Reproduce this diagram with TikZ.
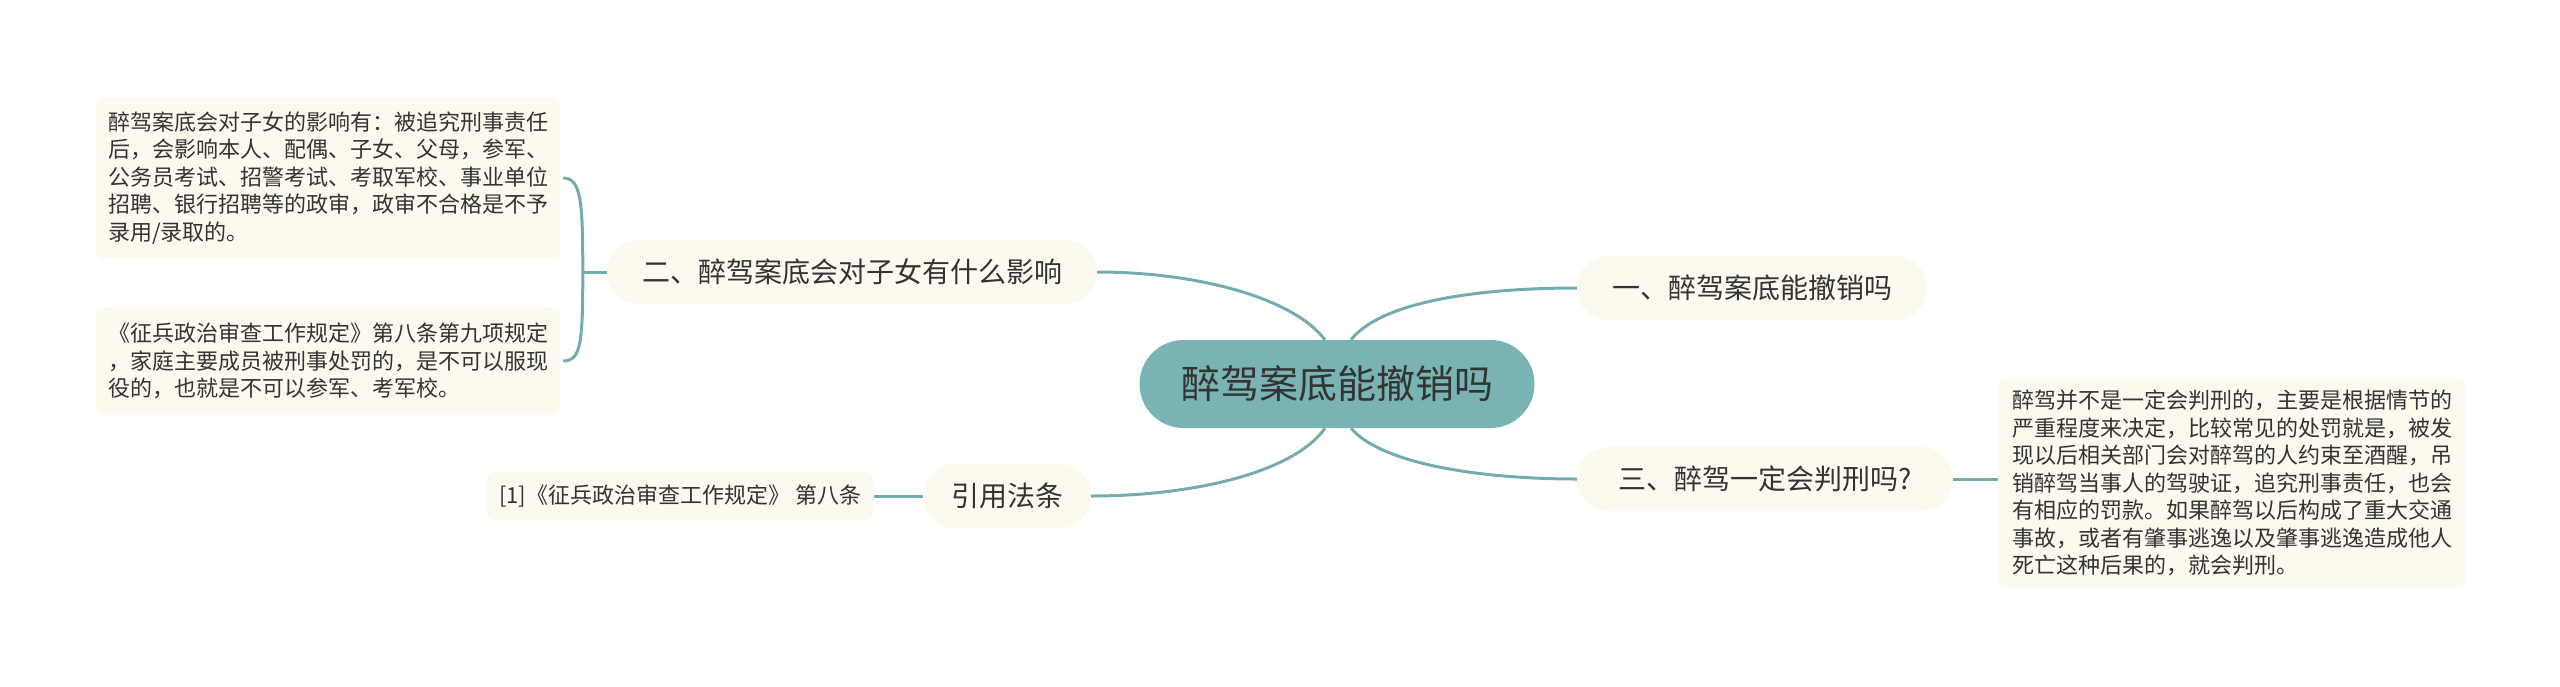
\documentclass[tikz,border=0pt]{standalone}
\usepackage{fontspec}
\setmainfont{Noto Sans CJK SC}
\definecolor{teal1}{RGB}{122,179,180}
\definecolor{linec}{RGB}{116,172,173}
\definecolor{cream}{RGB}{252,249,239}
\definecolor{txt}{RGB}{51,51,51}
\begin{document}
\begin{tikzpicture}[x=1pt,y=-1pt,
 conn/.style={draw=linec,line width=3pt},
 mainnode/.style={fill=teal1, rounded corners=44pt, minimum height=88pt, minimum width=395pt, text=txt, font=\fontsize{39}{46}\selectfont, inner sep=0pt},
 topic/.style={fill=cream, rounded corners=32pt, minimum height=64pt, text=txt, font=\fontsize{28}{34}\selectfont, inner sep=0pt},
 leaf/.style={fill=cream, rounded corners=8pt, text=txt, align=left, font=\fontsize{22}{27.5}\selectfont, inner sep=0pt}
]
\useasboundingbox (0,0) rectangle (2560,686);

\node[mainnode] (c) at (1337,384) {醉驾案底能撤销吗};

\node[topic, minimum width=350pt] (n1) at (1752,288) {一、醉驾案底能撤销吗};
\node[topic, minimum width=490pt] (n2) at (852,272) {二、醉驾案底会对子女有什么影响};
\node[topic, minimum width=376pt] (n3) at (1765,479) {三、醉驾一定会判刑吗?};
\node[topic, minimum width=168pt, minimum height=65pt] (n4) at (1007,496) {引用法条};

\node[leaf, minimum width=464pt, minimum height=160pt] (l1) at (328,178) {醉驾案底会对子女的影响有：被追究刑事责任\\后，会影响本人、配偶、子女、父母，参军、\\公务员考试、招警考试、考取军校、事业单位\\招聘、银行招聘等的政审，政审不合格是不予\\录用/录取的。};
\node[leaf, minimum width=464pt, minimum height=108pt] (l2) at (328,361) {《征兵政治审查工作规定》第八条第九项规定\\，家庭主要成员被刑事处罚的，是不可以服现\\役的，也就是不可以参军、考军校。};
\node[leaf, minimum width=467pt, minimum height=209pt] (l3) at (2232,483) {醉驾并不是一定会判刑的，主要是根据情节的\\严重程度来决定，比较常见的处罚就是，被发\\现以后相关部门会对醉驾的人约束至酒醒，吊\\销醉驾当事人的驾驶证，追究刑事责任，也会\\有相应的罚款。如果醉驾以后构成了重大交通\\事故，或者有肇事逃逸以及肇事逃逸造成他人\\死亡这种后果的，就会判刑。};
\node[leaf, minimum width=387pt, minimum height=48pt] (l4) at (680,496) {[1]《征兵政治审查工作规定》 第八条};

\draw[conn] ([xshift=-12pt]c.north) .. controls +(-32,-42) and +(100,0) .. (n2.east);
\draw[conn] ([xshift=14pt]c.north) .. controls +(30,-38) and +(-100,0) .. (n1.west);
\draw[conn] ([xshift=-12pt]c.south) .. controls +(-32,45) and +(100,0) .. (n4.east);
\draw[conn] ([xshift=14pt]c.south) .. controls +(30,35) and +(-100,0) .. (n3.west);

\coordinate (br) at ([xshift=-24pt]n2.west);
\draw[conn] (n2.west) -- (br);
\draw[conn] (br) .. controls +(0,-70) and +(18,0) .. ([xshift=3pt]l1.east);
\draw[conn] (br) .. controls +(0,70) and +(18,0) .. ([xshift=3pt]l2.east);

\draw[conn] (n3.east) -- (n3.east -| l3.west);
\draw[conn] (n4.west) -- (l4.east);
\end{tikzpicture}
\end{document}
